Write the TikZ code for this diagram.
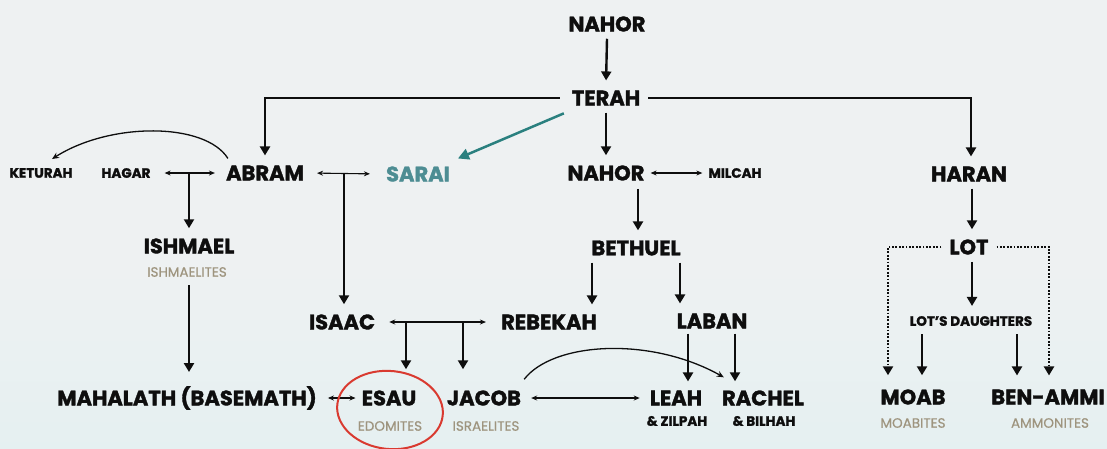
\documentclass[tikz,border=0pt]{standalone}
\usepackage{fontspec}
\setmainfont{Poppins}[BoldFeatures={FakeBold=1.6}]
\usetikzlibrary{arrows.meta,calc}

\definecolor{ink}{HTML}{0E0E0E}
\definecolor{tribecol}{HTML}{9E947E}
\definecolor{saraicol}{HTML}{4D8D93}
\definecolor{tealarrow}{HTML}{2A807F}
\definecolor{circlecol}{HTML}{D93A30}
\definecolor{bgtop}{HTML}{EEF1F2}
\definecolor{bgmid}{HTML}{E3F0F1}
\definecolor{bgbot}{HTML}{C4EDF2}

\pgfdeclareverticalshading{backdrop}{100bp}{%
  color(0bp)=(bgbot); color(20bp)=(bgmid); color(45bp)=(bgtop); color(100bp)=(bgtop)}

\tikzset{
  big/.style={font=\fontsize{21}{23}\selectfont\bfseries, text=ink, inner xsep=6pt, inner ysep=7pt},
  minor/.style={font=\fontsize{13.5}{15}\selectfont\bfseries, text=ink, inner xsep=6pt, inner ysep=7pt},
  tribe/.style={font=\fontsize{13.5}{15}\selectfont\addfontfeature{FakeBold=0.5}, text=tribecol, inner sep=4pt},
  kin/.style={draw=ink, line width=2.4pt, -{Triangle[length=9pt,width=10pt]}, shorten >=3pt},
  wed/.style={draw=ink, line width=1.1pt, {Stealth[length=6pt,width=5pt]}-{Stealth[length=6pt,width=5pt]}},
  curved/.style={draw=ink, line width=1.3pt, -{Stealth[length=7pt,width=6pt]}},
  dots/.style={draw=ink, line width=2.8pt, dash pattern=on 1.8pt off 1.6pt, -{Triangle[length=9pt,width=10pt]}},
  tealline/.style={draw=tealarrow, line width=2.5pt, -{Triangle[length=11pt,width=11pt]}},
}

\begin{document}
\begin{tikzpicture}[x=1pt, y=-1pt]
  % backdrop
  \useasboundingbox (0,0) rectangle (1107,448);
  \shade[shading=backdrop] (0,0) rectangle (1107,448);

  % generations
  \node[big] (nahor0) at (607,24) {NAHOR};
  \node[big] (terah) at (606,98) {TERAH};

  \node[minor] (keturah) at (41,173) {KETURAH};
  \node[minor] (hagar) at (126,173) {HAGAR};
  \node[big] (abram) at (265,173) {ABRAM};
  \node[big, text=saraicol] (sarai) at (418,174) {SARAI};
  \node[big] (nahor) at (606,173) {NAHOR};
  \node[minor] (milcah) at (735,173) {MILCAH};
  \node[big] (haran) at (969,174) {HARAN};

  \node[big] (ishmael) at (189,246) {ISHMAEL};
  \node[tribe] (ishmaelites) at (187,272) {ISHMAELITES};
  \node[big] (bethuel) at (636,248) {BETHUEL};
  \node[big] (lot) at (969,247) {LOT};

  \node[big] (isaac) at (342,322) {ISAAC};
  \node[big] (rebekah) at (549,322) {REBEKAH};
  \node[big] (laban) at (712,321) {LABAN};
  \node[minor] (daughters) at (971,321) {LOT’S DAUGHTERS};

  \node[big] (mahalath) at (187,398) {MAHALATH (BASEMATH)};
  \node[big] (esau) at (389,398) {ESAU};
  \node[big] (jacob) at (484,398) {JACOB};
  \node[big] (leah) at (676,398) {LEAH};
  \node[big] (rachel) at (763,398) {RACHEL};
  \node[big] (moab) at (913,397) {MOAB};
  \node[big] (benammi) at (1048,397) {BEN-AMMI};

  \node[tribe] (edomites) at (390,426) {EDOMITES};
  \node[tribe] (israelites) at (486,426) {ISRAELITES};
  \node[minor, inner sep=3pt] (zilpah) at (677,421) {\& ZILPAH};
  \node[minor, inner sep=3pt] (bilhah) at (764,421) {\& BILHAH};
  \node[tribe] (moabites) at (913,423) {MOABITES};
  \node[tribe] (ammonites) at (1050,423) {AMMONITES};

  % descent from Nahor and Terah
  \draw[kin] (nahor0.south) -- (terah.north);
  \draw[kin, shorten <=6pt] (terah.west) -| (abram.north);
  \draw[kin, shorten <=2pt] (terah.east) -| ([xshift=2pt]haran.north);
  \draw[kin] (terah.south) -- (nahor.north);
  \draw[tealline, shorten <=2pt, shorten >=2pt] (terah.south west) -- (sarai.north east);

  % Abram's household
  \draw[wed, shorten <=8pt, shorten >=5pt] (hagar.east) -- (abram.west);
  \coordinate (hagarline) at (189,173);
  \draw[kin] (hagarline) -- (hagarline |- ishmael.north);
  \draw[curved] ([xshift=8pt]abram.north west) .. controls (205,122) and (110,122) .. ([xshift=11pt,yshift=2pt]keturah.north);
  \draw[wed, shorten <=7pt, shorten >=10pt] (abram.east) -- (sarai.west);
  \coordinate (sarailine) at (344,173);
  \draw[kin] (sarailine) -- (sarailine |- isaac.north);
  \draw[kin, shorten <=4pt, shorten >=7pt] (ishmaelites.south -| ishmael) -- (ishmael |- mahalath.north);

  % Nahor's household
  \draw[wed] (nahor.east) -- (milcah.west);
  \draw[kin, shorten <=1pt] ([xshift=2pt]bethuel.north |- nahor.south) -- ([xshift=2pt]bethuel.north);
  \draw[kin] ([xshift=-44pt]bethuel.south) -- ([xshift=-44pt]bethuel.south |- rebekah.north);
  \draw[kin] ([xshift=44pt]bethuel.south) -- ([xshift=44pt]bethuel.south |- laban.north);

  % Isaac and Rebekah
  \draw[wed, shorten <=8pt, shorten >=9pt] (isaac.east) -- (rebekah.west);
  \coordinate (esauline) at (406,322);
  \coordinate (jacobline) at (463,322);
  \draw[kin, shorten >=14pt] (esauline) -- (esauline |- esau.north);
  \draw[kin, shorten >=14pt] (jacobline) -- (jacobline |- jacob.north);

  % Laban's daughters
  \draw[kin, shorten <=-2pt, shorten >=2pt] ([xshift=-24pt]laban.south) -- ([xshift=-24pt]laban.south |- leah.north);
  \draw[kin, shorten <=-2pt, shorten >=2pt] ([xshift=23pt]laban.south) -- ([xshift=23pt]laban.south |- rachel.north);

  % bottom row of marriages
  \draw[wed, shorten <=5pt] (mahalath.east) -- (esau.west);
  \draw[wed, shorten <=4pt, shorten >=4pt] (jacob.east) -- (leah.west);
  \draw[curved] ([xshift=-3pt,yshift=4pt]jacob.north east) .. controls (553,342) and (650,336) .. ([xshift=8pt,yshift=6pt]rachel.north west);

  % Haran and Lot
  \draw[kin, shorten <=0pt] ([xshift=3pt]haran.south) -- ([xshift=3pt]lot.north);
  \draw[kin] ([xshift=3pt]lot.south) -- ([xshift=1pt]daughters.north);
  \draw[dots, shorten <=2pt, shorten >=7pt] (lot.west) -| ([xshift=-25pt]moab.north);
  \draw[dots, shorten <=2pt, shorten >=7pt] (lot.east) -| ([xshift=1pt]benammi.north);
  \draw[kin, shorten <=1pt, shorten >=7pt] ([xshift=-49pt]daughters.south) -- ([xshift=-49pt]daughters.south |- moab.north);
  \draw[kin, shorten <=1pt, shorten >=7pt] ([xshift=46pt]daughters.south) -- ([xshift=46pt]daughters.south |- benammi.north);

  % ring round Esau
  \draw[circlecol, line width=2pt, rotate around={-6:(390,410)}] (390,410) ellipse [x radius=53pt, y radius=39pt];
\end{tikzpicture}
\end{document}
